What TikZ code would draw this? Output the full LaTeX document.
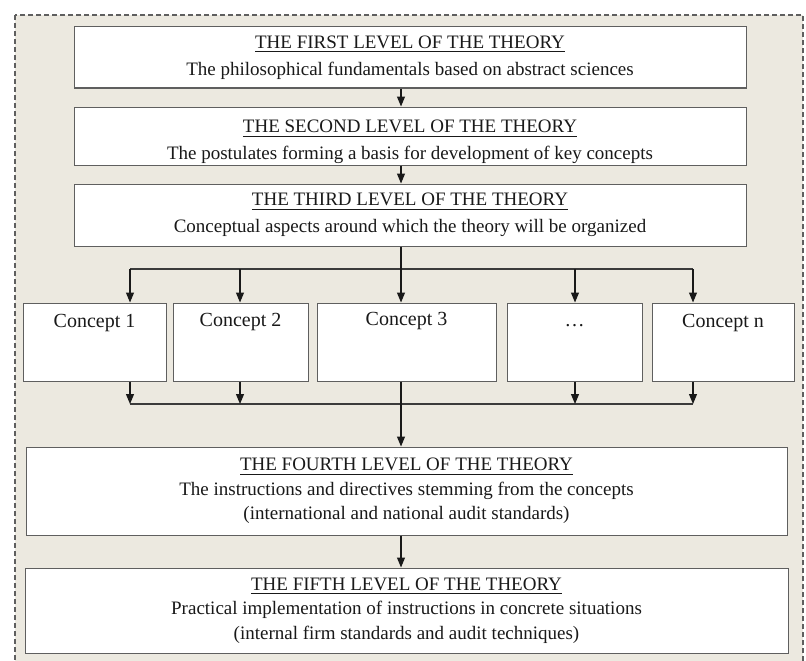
\documentclass[tikz,border=0pt]{standalone}
\usepackage{fontspec}
\setmainfont{Liberation Serif}
\usetikzlibrary{arrows.meta, positioning}
\definecolor{paperbeige}{RGB}{236,233,224}
\definecolor{framegray}{RGB}{95,95,95}
\definecolor{inkblack}{RGB}{25,25,25}
\tikzset{
    levelbox/.style={rectangle, draw=framegray, fill=white, line width=1pt, minimum width=#1, inner sep=0pt},
    leveltext/.style={align=center, font=\fontsize{19}{27}\selectfont, text=inkblack, inner sep=0pt},
    lowtext/.style={align=center, font=\fontsize{19}{24.5}\selectfont, text=inkblack, inner sep=0pt},
    conceptbox/.style={rectangle, draw=framegray, fill=white, line width=1pt, minimum width=#1, minimum height=78pt, inner sep=0pt},
    conceptlabel/.style={font=\fontsize{20}{23}\selectfont, text=inkblack, inner sep=0pt},
    flowarrow/.style={-{Triangle[length=10pt, width=8pt]}, inkblack, line width=1.1pt},
    flowline/.style={inkblack!85, line width=1.1pt},
    outerframe/.style={draw=framegray, fill=paperbeige, dash pattern=on 5pt off 3pt, line width=1.3pt}
}
\newcommand{\levelhead}[1]{\underline{#1\rule[-2pt]{0pt}{0pt}}}

\begin{document}
\begin{tikzpicture}[x=1pt, y=-1pt]
\useasboundingbox (0,0) rectangle (806,661);
\draw[outerframe] (15,15) rectangle (803,700);

\coordinate (spine) at (401,0);

% first three levels
\node[levelbox=672pt, minimum height=61pt, leveltext] (lvl1) at (410,57.5)
    {\levelhead{THE FIRST LEVEL OF THE THEORY}\\The philosophical fundamentals based on abstract sciences};
\node[levelbox=672pt, minimum height=58pt] (lvl2) at (410,136) {};
\begin{scope}
    \clip (lvl2.north west) rectangle (lvl2.south east);
    \node[leveltext] (lvl2text) at (410,142)
        {\levelhead{THE SECOND LEVEL OF THE THEORY}\\The postulates forming a basis for development of key concepts};
\end{scope}
\node[levelbox=672pt, minimum height=62pt, leveltext] (lvl3) at (410,215)
    {\levelhead{THE THIRD LEVEL OF THE THEORY}\\Conceptual aspects around which the theory will be organized};

\draw[flowarrow] (lvl1.south -| spine) -- (lvl2.north -| spine);
\draw[flowarrow] (lvl2.south -| spine) -- (lvl3.north -| spine);

% concepts
\node[conceptbox=143pt] (c1) at (94.5,342) {};
\node[conceptbox=135pt] (c2) at (240.5,342) {};
\node[conceptbox=179pt] (c3) at (406.5,342) {};
\node[conceptbox=135pt] (c4) at (574.5,342) {};
\node[conceptbox=142pt] (cn) at (723,342) {};

\node[conceptlabel, below=12pt of c1.north] (c1t) {Concept 1};
\node[conceptlabel, below=11pt of c2.north] (c2t) {Concept 2};
\node[conceptlabel, below=10pt of c3.north] (c3t) {Concept 3};
\node[conceptlabel, below=22pt of c4.north] (c4t) {\dots};
\node[conceptlabel, below=12pt of cn.north] (cnt) {Concept n};

\coordinate (t1) at (130,269);
\coordinate (t2) at (240,269);
\coordinate (t4) at (575,269);
\coordinate (tn) at (693,269);
\coordinate (b1) at (130,404);
\coordinate (b2) at (240,404);
\coordinate (b4) at (575,404);
\coordinate (bn) at (693,404);

\draw[flowline] (t1) -- (tn);
\draw[flowline] (b1) -- (bn);
\foreach \tp/\cc in {t1/c1, t2/c2, t4/c4, tn/cn}
    \draw[flowarrow] (\tp) -- (\tp |- \cc.north);
\foreach \bp/\cc in {b1/c1, b2/c2, b4/c4, bn/cn}
    \draw[flowarrow] (\bp |- \cc.south) -- (\bp);

% lower levels
\node[levelbox=761pt, minimum height=88pt, lowtext] (lvl4) at (406.5,491)
    {\levelhead{THE FOURTH LEVEL OF THE THEORY}\\The instructions and directives stemming from the concepts\\(international and national audit standards)};
\node[levelbox=763pt, minimum height=85pt, lowtext] (lvl5) at (406.5,610.5)
    {\levelhead{THE FIFTH LEVEL OF THE THEORY}\\Practical implementation of instructions in concrete situations\\(internal firm standards and audit techniques)};

\draw[flowarrow] (lvl3.south -| spine) -- (c3.north -| spine);
\draw[flowarrow] (c3.south -| spine) -- (lvl4.north -| spine);
\draw[flowarrow] (lvl4.south -| spine) -- (lvl5.north -| spine);

\end{tikzpicture}
\end{document}
